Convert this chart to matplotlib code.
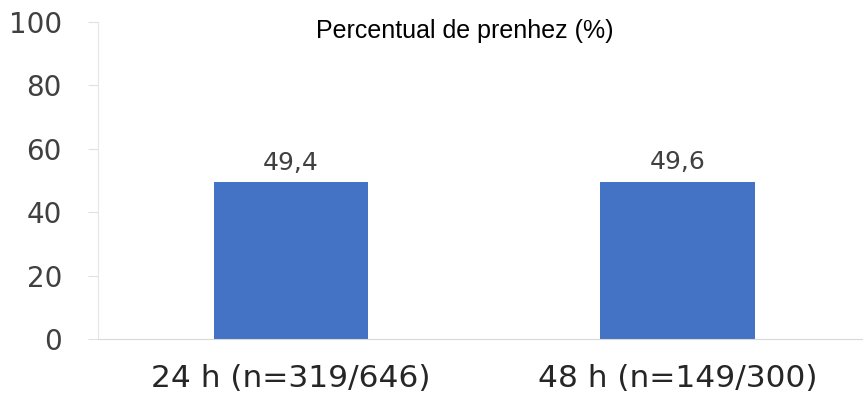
import matplotlib
matplotlib.use("Agg")
import matplotlib.pyplot as plt

# dados
categorias = ["24 h (n=319/646)", "48 h (n=149/300)"]
prenhez = [49.4, 49.6]
rotulos = ["49,4", "49,6"]
yticks = [0, 20, 40, 60, 80, 100]

fig = plt.figure(figsize=(8.63, 3.98), dpi=100)
ax = fig.add_axes([98/863, 1 - 339/398, 1 - 98/863, (339 - 22)/398])

x = list(range(len(categorias)))
ax.bar(x, prenhez, width=0.4, color="#4472C4", zorder=2)

for xi, v, r in zip(x, prenhez, rotulos):
    ax.text(xi, v + 4, r, ha="center", va="baseline", fontsize=18,
            family="DejaVu Sans", color="#404040")

ax.set_ylim(0, 100)
ax.set_xlim(-0.5, 1.48)
ax.set_yticks(yticks)
ax.set_yticklabels([str(t) for t in yticks], family="DejaVu Sans", fontsize=20, color="#404040")
ax.set_xticks(x)
ax.set_xticklabels(categorias, family="DejaVu Sans", fontsize=22.5, color="#262626")
ax.tick_params(axis="x", length=0, pad=18)
ax.tick_params(axis="y", length=7, color="#e0e0e0", pad=19)

for s in ["top", "right"]:
    ax.spines[s].set_visible(False)
ax.spines["left"].set_color("#e6e6e6")
ax.spines["bottom"].set_color("#d9d9d9")

fig.text(465/863, 1 - 31/398, "Percentual de prenhez (%)", ha="center", va="center",
         fontsize=18, family="Liberation Sans", color="black")

fig.savefig("out.png", dpi=100)
